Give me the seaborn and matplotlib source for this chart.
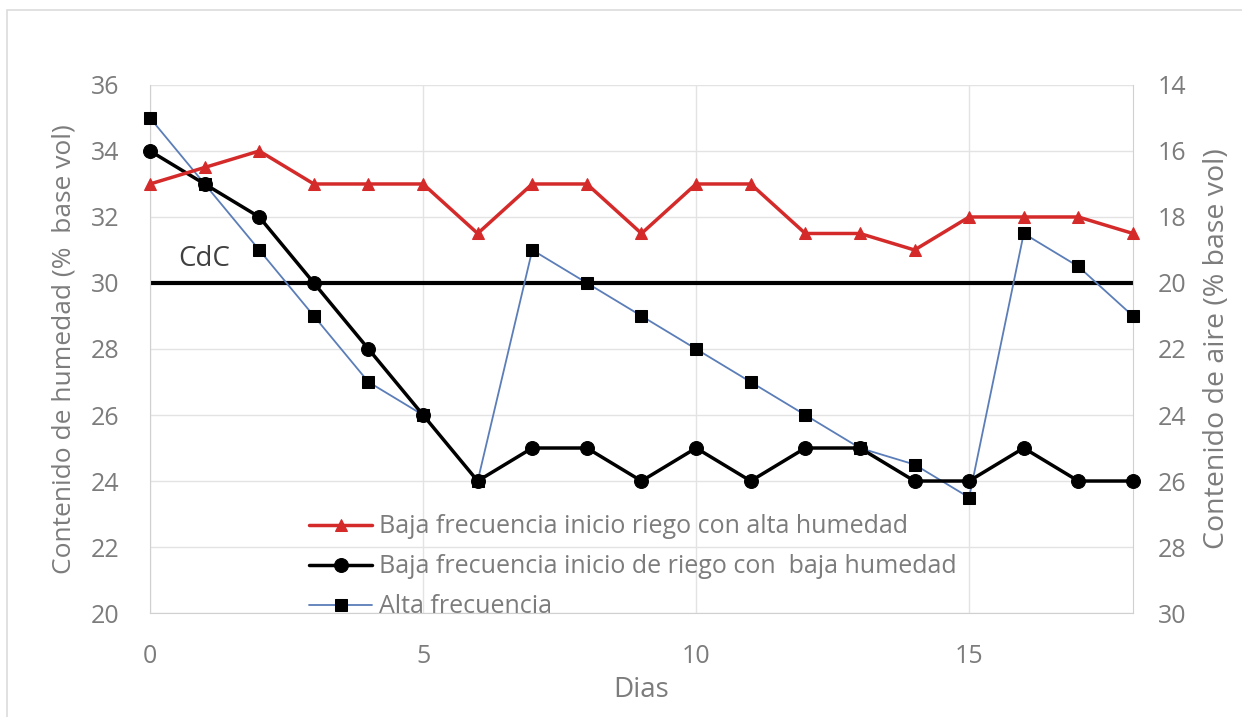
import matplotlib
matplotlib.use("Agg")
import matplotlib.pyplot as plt
import seaborn as sns
from matplotlib.patches import Rectangle

# datos
dias = list(range(19))
alta_humedad = [33, 33.5, 34, 33, 33, 33, 31.5, 33, 33, 31.5, 33, 33, 31.5, 31.5, 31, 32, 32, 32, 31.5]
baja_humedad = [34, 33, 32, 30, 28, 26, 24, 25, 25, 24, 25, 24, 25, 25, 24, 24, 25, 24, 24]
alta_frec = [35, 33, 31, 29, 27, 26, 24, 31, 30, 29, 28, 27, 26, 25, 24.5, 23.5, 31.5, 30.5, 29]
cdc = 30

labels = ["Baja frecuencia inicio riego con alta humedad",
          "Baja frecuencia inicio de riego con  baja humedad",
          "Alta frecuencia"]

sns.set_style("white")
plt.rcParams['font.family'] = ['Open Sans', 'DejaVu Sans']
txt = '#7c7c7c'

fig = plt.figure(figsize=(12.42, 7.17), dpi=100)
ax = fig.add_axes([0.1208, 0.145, 0.7914, 0.7365])

# marco del area de grafico
fig.patches.append(Rectangle((0.006, -0.01), 1.0, 0.996, transform=fig.transFigure,
                             fill=False, edgecolor='#dcdcdc', linewidth=1.2))

ax.set_xlim(0, 18)
ax.set_ylim(20, 36)
ax.set_xticks([0, 5, 10, 15])
ax.set_yticks(range(20, 37, 2))
ax.grid(True, color='#e3e3e3', linewidth=1)
ax.set_axisbelow(True)

sns.lineplot(x=dias, y=alta_frec, ax=ax, color='#5b7db8', linewidth=1.3, marker='s',
             markersize=9, markerfacecolor='black', markeredgecolor='black',
             label=labels[2], clip_on=False, zorder=3)
sns.lineplot(x=dias, y=baja_humedad, ax=ax, color='black', linewidth=2.5, marker='o',
             markersize=10, markerfacecolor='black', markeredgecolor='black',
             label=labels[1], clip_on=False, zorder=4)
sns.lineplot(x=dias, y=alta_humedad, ax=ax, color='#d42a2a', linewidth=2.5, marker='^',
             markersize=8, markerfacecolor='#d42a2a', markeredgecolor='#d42a2a',
             label=labels[0], clip_on=False, zorder=5)
ax.axhline(cdc, color='black', linewidth=3, zorder=2)
ax.text(1.0, cdc + 0.3, "CdC", fontsize=20, color='#404040', ha='center', va='bottom')

ax.spines['top'].set_visible(False)
for s in ['left', 'right', 'bottom']:
    ax.spines[s].set_color('#d0d0d0')
ax.tick_params(axis='y', colors=txt, labelsize=18, length=0, pad=22)
ax.tick_params(axis='x', colors=txt, labelsize=18, length=0, pad=22)
ax.set_xlabel("Dias", fontsize=20, color=txt, labelpad=5)
ax.set_ylabel("Contenido de humedad (%  base vol)", fontsize=19, color=txt, labelpad=10)

ax2 = ax.twinx()
ax2.set_ylim(50 - 20, 50 - 36)
ax2.set_yticks(range(14, 31, 2))
ax2.tick_params(axis='y', colors=txt, labelsize=18, length=0, pad=18)
for s in ax2.spines.values():
    s.set_visible(False)
ax2.set_ylabel("Contenido de aire (% base vol)", fontsize=20.5, color=txt, labelpad=12)

h, l = ax.get_legend_handles_labels()
order = [2, 1, 0]
leg = ax.legend([h[i] for i in order], [l[i] for i in order], loc='upper left',
                bbox_to_anchor=(0.239, 0.3), bbox_transform=fig.transFigure,
                frameon=False, fontsize=18, handlelength=2.5, handletextpad=0.3,
                labelspacing=0.6, borderpad=0)
for t in leg.get_texts():
    t.set_color(txt)

fig.savefig("out.png", dpi=100)
